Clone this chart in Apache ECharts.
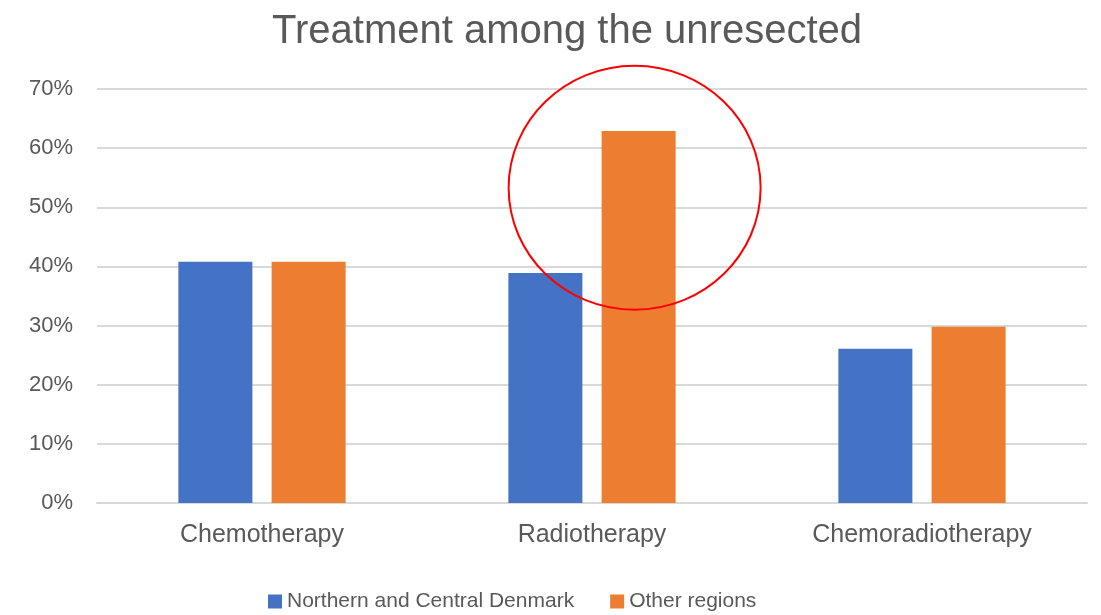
<!DOCTYPE html>
<html>
<head>
<meta charset="utf-8">
<script src="https://cdn.jsdelivr.net/npm/echarts@6/dist/echarts.min.js"></script>
<style>
  html, body { margin: 0; padding: 0; background: #fff; }
  #chart { width: 1101px; height: 615px; }
</style>
</head>
<body>
<div id="chart"></div>
<script>
// data
var categories = ['Chemotherapy', 'Radiotherapy', 'Chemoradiotherapy'];
var northCentral = [40.8, 38.9, 26.1];
var otherRegions = [40.8, 62.9, 29.8];
var seriesNames = ['Northern and Central Denmark', 'Other regions'];
var yTicks = [0, 10, 20, 30, 40, 50, 60, 70];

// red highlight circle around the radiotherapy bar (centre in value units)
var highlightIndex = 1;
var highlightValue = 53.3;

var textColor = '#595959';
var font = 'Liberation Sans, Arial, sans-serif';

var chart = echarts.init(document.getElementById('chart'));

var option = {
    animation: false,
    title: {
        text: 'Treatment among the unresected',
        left: 562,
        textAlign: 'center',
        top: 7,
        textStyle: { color: textColor, fontSize: 40, fontWeight: 'normal', fontFamily: font }
    },
    legend: {
        data: seriesNames,
        left: 263,
        top: 586,
        itemWidth: 14,
        itemHeight: 14,
        itemGap: 36,
        icon: 'rect',
        textStyle: { color: textColor, fontSize: 21, fontFamily: font }
    },
    grid: { left: 97, right: 14, top: 89, bottom: 112 },
    xAxis: {
        type: 'category',
        data: categories,
        axisTick: { show: false },
        axisLine: { lineStyle: { color: '#d9d9d9', width: 2 } },
        axisLabel: { color: textColor, fontSize: 25, fontFamily: font, margin: 20 }
    },
    yAxis: {
        type: 'value',
        min: yTicks[0],
        max: yTicks[yTicks.length - 1],
        interval: 10,
        axisLine: { show: false },
        axisTick: { show: false },
        axisLabel: { color: textColor, fontSize: 22, fontFamily: font, margin: 24, formatter: '{value}%' },
        splitLine: { lineStyle: { color: '#d9d9d9', width: 2 } }
    },
    series: [
        {
            name: seriesNames[0],
            type: 'bar',
            data: northCentral,
            barWidth: 74,
            barGap: '26%',
            itemStyle: { color: '#4472c4' }
        },
        {
            name: seriesNames[1],
            type: 'bar',
            data: otherRegions,
            barWidth: 74,
            barGap: '26%',
            itemStyle: { color: '#ed7d31' }
        }
    ]
};
chart.setOption(option);

// place the ellipse around the highlighted orange bar
var layout = chart.getModel().getSeriesByIndex(1).getData().getItemLayout(highlightIndex);
var cy = chart.convertToPixel({ yAxisIndex: 0 }, highlightValue);
chart.setOption({
    graphic: [{
        type: 'ellipse',
        shape: { cx: layout.x + layout.width / 2 - 4, cy: cy, rx: 126, ry: 122 },
        style: { fill: 'none', stroke: '#ff0000', lineWidth: 2 },
        z: 100
    }]
});
</script>
</body>
</html>
